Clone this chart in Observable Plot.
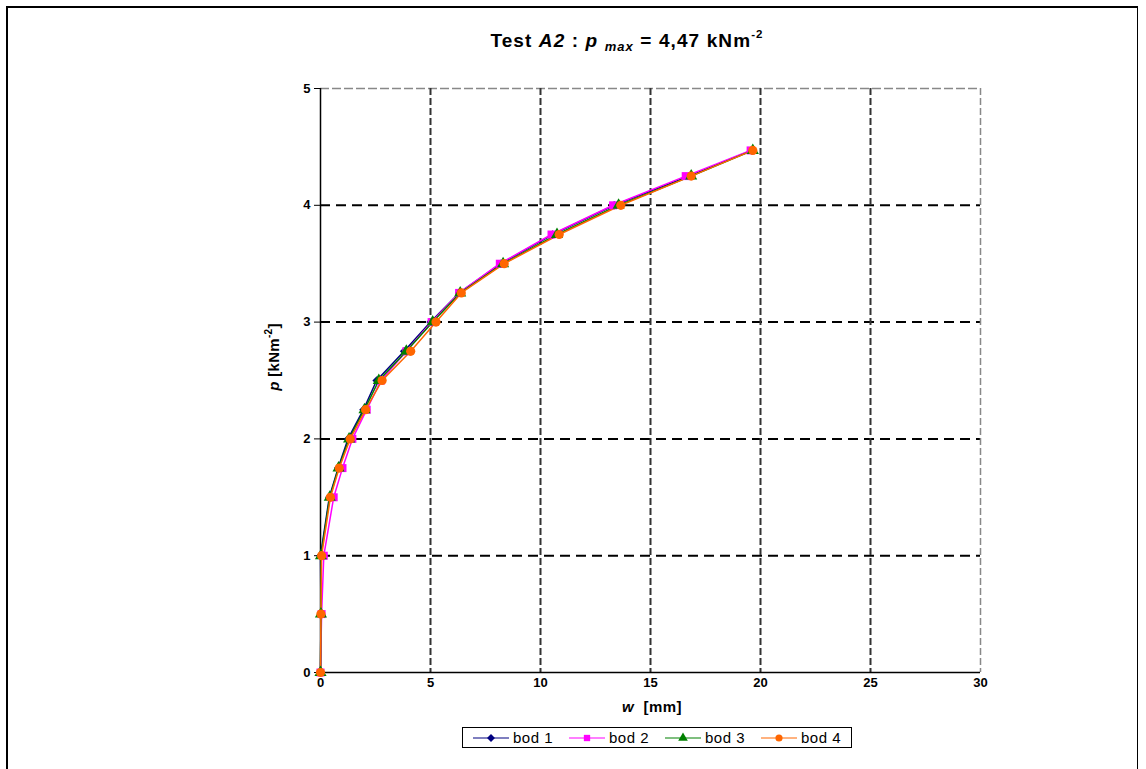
<!DOCTYPE html>
<html>
<head>
<meta charset="utf-8">
<script src="https://cdn.jsdelivr.net/npm/d3@7"></script>
<script src="https://cdn.jsdelivr.net/npm/@observablehq/plot@0.6"></script>
<style>
  body { margin:0; background:#fff; font-family: "Liberation Sans", Arial, sans-serif; }
  #wrap { position:relative; width:1146px; height:769px; overflow:hidden; }
  #frame { position:absolute; left:6px; top:6px; width:1132px; height:800px; border:2px solid #000; box-sizing:border-box; border-right-width:1px; }
  #title { position:absolute; left:0; width:1254px; top:28px; text-align:center; font-weight:bold; font-size:19px; letter-spacing:1.1px; color:#000; }
  #title sub { font-size:13px; font-style:italic; vertical-align:-4px; }
  #title sup { font-size:11.5px; vertical-align:9px; }
  #chart { position:absolute; left:0; top:0; }
  #legend { position:absolute; left:462px; top:727px; width:390px; height:21px; border:1px solid #000; box-sizing:border-box; display:flex; align-items:center; justify-content:space-around; font-size:15px; letter-spacing:0.5px; padding:0 2px; }
  #legend .item { display:flex; align-items:center; }
  #legend svg { margin-right:4px; }
</style>
</head>
<body>
<div id="wrap">
  <div id="frame"></div>
  <div id="chart"></div>
  <div id="title">Test <i>A2</i> : <i>p</i> <sub>max</sub> = 4,47 kNm<sup>-2</sup></div>
  <div id="legend"></div>
</div>
<script>
const pValues = [0, 0.5, 1, 1.5, 1.75, 2, 2.25, 2.5, 2.75, 3, 3.25, 3.5, 3.75, 4, 4.25, 4.47];
const w1 = [0, 0.02, 0.0, 0.4, 0.8, 1.25, 1.95, 2.55, 3.8, 5.0, 6.3, 8.2, 10.55, 13.35, 16.75, 19.6];
const w2 = [0, 0.05, 0.15, 0.6, 1.0, 1.45, 2.1, 2.75, 3.9, 5.05, 6.3, 8.15, 10.5, 13.3, 16.6, 19.55];
const w3 = [0, 0.02, 0.02, 0.42, 0.82, 1.3, 2.0, 2.65, 3.9, 5.1, 6.35, 8.3, 10.75, 13.55, 16.85, 19.65];
const w4 = [0, 0.02, 0.05, 0.45, 0.85, 1.35, 2.05, 2.8, 4.1, 5.25, 6.4, 8.35, 10.85, 13.65, 16.85, 19.65];
const seriesNames = ["bod 1", "bod 2", "bod 3", "bod 4"];
const seriesColors = ["#000080", "#ff00ff", "#008000", "#ff6600"];
const seriesSymbols = ["diamond2", "square", "triangle", "circle"];
const seriesR = [3.8, 4.5, 4.5, 4.6];
const xTicks = [0, 5, 10, 15, 20, 25, 30];
const yTicks = [0, 1, 2, 3, 4, 5];

const allW = [w1, w2, w3, w4];
const data = [];
allW.forEach((ws, si) => ws.forEach((w, i) => data.push({series: seriesNames[si], w, p: pValues[i]})));

const marks = [
  Plot.ruleY([1, 2, 3, 4], {stroke: "#000", strokeWidth: 2, strokeDasharray: "10,6"}),
  Plot.ruleY([5], {stroke: "#888", strokeWidth: 1.5, strokeDasharray: "9,3"}),
  Plot.ruleX([5, 10, 15, 20, 25], {stroke: "#333", strokeWidth: 2, strokeDasharray: "7,3"}),
  Plot.ruleX([30], {stroke: "#888", strokeWidth: 1.5, strokeDasharray: "7,3"}),
  Plot.ruleX([0], {stroke: "#000", strokeWidth: 1.5}),
  Plot.ruleY([0], {stroke: "#000", strokeWidth: 1.5}),
  Plot.axisY({ticks: yTicks, tickSize: 6, tickFormat: () => "", label: null}),
  Plot.text(xTicks, {x: d => d, frameAnchor: "bottom", dy: 14, text: d => String(d), fontSize: 13, fontWeight: "bold", fill: "#000"}),
  Plot.text(yTicks, {y: d => d, frameAnchor: "left", dx: -10, textAnchor: "end", text: d => String(d), fontSize: 13, fontWeight: "bold", fill: "#000"})
];
seriesNames.forEach((name, si) => {
  const d = data.filter(r => r.series === name);
  marks.push(Plot.line(d, {x: "w", y: "p", stroke: seriesColors[si], strokeWidth: 1.5}));
});
seriesNames.forEach((name, si) => {
  const d = data.filter(r => r.series === name);
  marks.push(Plot.dot(d, {x: "w", y: "p", fill: seriesColors[si], stroke: "none", symbol: seriesSymbols[si], r: seriesR[si]}));
});

const chart = Plot.plot({
  width: 1146,
  height: 720,
  marginLeft: 320,
  marginRight: 166,
  marginTop: 88,
  marginBottom: 48,
  style: {background: "transparent", fontFamily: "Liberation Sans, Arial, sans-serif", color: "#000"},
  x: {domain: [0, 30], axis: null},
  y: {domain: [0, 5]},
  marks
});
document.getElementById("chart").appendChild(chart);

const svg = d3.select(chart);
const xl = svg.append("text").attr("x", 652).attr("y", 712).attr("text-anchor", "middle")
  .style("font-weight", "bold").style("font-size", "15px").attr("letter-spacing", 0.5).attr("fill", "#000");
xl.append("tspan").style("font-style", "italic").text("w");
xl.append("tspan").text("  [mm]");

const yl = svg.append("text").attr("transform", "translate(279,357) rotate(-90)").attr("text-anchor", "middle")
  .style("font-weight", "bold").style("font-size", "15px").attr("letter-spacing", 0.3).attr("fill", "#000");
yl.append("tspan").style("font-style", "italic").text("p");
yl.append("tspan").text(" [kNm");
yl.append("tspan").style("font-size", "10px").attr("dy", -7).text("-2");
yl.append("tspan").attr("dy", 7).text("]");

// legend
const leg = d3.select("#legend");
seriesNames.forEach((name, si) => {
  const item = leg.append("div").attr("class", "item");
  const s = item.append("svg").attr("width", 36).attr("height", 12);
  s.append("line").attr("x1", 0).attr("x2", 36).attr("y1", 6).attr("y2", 6).attr("stroke", seriesColors[si]).attr("stroke-width", 1.2);
  const sym = {diamond2: d3.symbolDiamond2, square: d3.symbolSquare, triangle: d3.symbolTriangle, circle: d3.symbolCircle}[seriesSymbols[si]];
  s.append("path").attr("d", d3.symbol(sym, 40)).attr("transform", "translate(18,6)").attr("fill", seriesColors[si]);
  item.append("span").text(name);
});
</script>
</body>
</html>
